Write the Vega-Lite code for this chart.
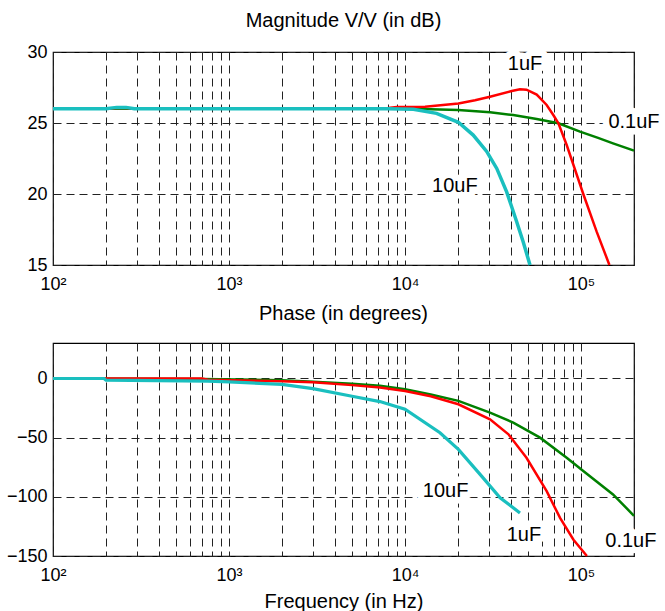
{
  "$schema": "https://vega.github.io/schema/vega-lite/v6.json",
  "padding": {"left": 5, "top": 10, "right": 0, "bottom": 0},
  "background": "white",
  "spacing": 9,
  "config": {
    "font": "Liberation Sans",
    "view": {"stroke": "black", "strokeWidth": 1.2},
    "axis": {
      "labelFont": "Liberation Sans", "labelFontSize": 18, "labelColor": "black",
      "grid": true, "gridColor": "#222222", "gridDash": [8, 5], "gridWidth": 1, "gridOpacity": 1,
      "domain": false, "ticks": false, "tickSize": 0,
      "titleFont": "Liberation Sans", "titleFontSize": 20, "titleColor": "black", "titleFontWeight": "normal"
    },
    "title": {"font": "Liberation Sans", "fontSize": 20, "fontWeight": "normal", "color": "black", "offset": 12}
  },
  "datasets": {
    "mag": [
      {"s": "0.1uF", "f": 100, "v": 26}, {"s": "0.1uF", "f": 1000, "v": 26}, {"s": "0.1uF", "f": 5000, "v": 26},
      {"s": "0.1uF", "f": 10000, "v": 26}, {"s": "0.1uF", "f": 14000, "v": 25.97}, {"s": "0.1uF", "f": 20100, "v": 25.92},
      {"s": "0.1uF", "f": 30400, "v": 25.75}, {"s": "0.1uF", "f": 41200, "v": 25.56}, {"s": "0.1uF", "f": 56000, "v": 25.28},
      {"s": "0.1uF", "f": 74400, "v": 24.98}, {"s": "0.1uF", "f": 98700, "v": 24.39}, {"s": "0.1uF", "f": 125000, "v": 23.95},
      {"s": "0.1uF", "f": 152000, "v": 23.57}, {"s": "0.1uF", "f": 200000, "v": 23.05},

      {"s": "1uF", "f": 100, "v": 26}, {"s": "1uF", "f": 200, "v": 26}, {"s": "1uF", "f": 230, "v": 26.05},
      {"s": "1uF", "f": 260, "v": 26.05}, {"s": "1uF", "f": 300, "v": 26}, {"s": "1uF", "f": 1000, "v": 26},
      {"s": "1uF", "f": 8000, "v": 26.05}, {"s": "1uF", "f": 9000, "v": 26.12}, {"s": "1uF", "f": 13000, "v": 26.15},
      {"s": "1uF", "f": 20100, "v": 26.38}, {"s": "1uF", "f": 25000, "v": 26.6}, {"s": "1uF", "f": 30400, "v": 26.85},
      {"s": "1uF", "f": 40400, "v": 27.25}, {"s": "1uF", "f": 45000, "v": 27.37}, {"s": "1uF", "f": 49000, "v": 27.35},
      {"s": "1uF", "f": 56000, "v": 27.0}, {"s": "1uF", "f": 63800, "v": 26.27}, {"s": "1uF", "f": 69600, "v": 25.56},
      {"s": "1uF", "f": 74400, "v": 24.98}, {"s": "1uF", "f": 82900, "v": 23.45}, {"s": "1uF", "f": 103000, "v": 20.0},
      {"s": "1uF", "f": 122700, "v": 17.35}, {"s": "1uF", "f": 145000, "v": 15.0},

      {"s": "10uF", "f": 100, "v": 26}, {"s": "10uF", "f": 200, "v": 26}, {"s": "10uF", "f": 230, "v": 26.1},
      {"s": "10uF", "f": 260, "v": 26.1}, {"s": "10uF", "f": 290, "v": 26}, {"s": "10uF", "f": 1000, "v": 26},
      {"s": "10uF", "f": 8000, "v": 26}, {"s": "10uF", "f": 11150, "v": 25.97}, {"s": "10uF", "f": 15100, "v": 25.68},
      {"s": "10uF", "f": 20100, "v": 25.05}, {"s": "10uF", "f": 24400, "v": 24.15}, {"s": "10uF", "f": 29100, "v": 23.0},
      {"s": "10uF", "f": 33200, "v": 21.8}, {"s": "10uF", "f": 37800, "v": 20.15}, {"s": "10uF", "f": 43100, "v": 18.05},
      {"s": "10uF", "f": 47000, "v": 16.6}, {"s": "10uF", "f": 51300, "v": 15.0}
    ],
    "phase": [
      {"s": "0.1uF", "f": 100, "v": 0}, {"s": "0.1uF", "f": 700, "v": -0.5}, {"s": "0.1uF", "f": 2000, "v": -1.4},
      {"s": "0.1uF", "f": 3000, "v": -2.8}, {"s": "0.1uF", "f": 5000, "v": -4.5}, {"s": "0.1uF", "f": 7200, "v": -6.2},
      {"s": "0.1uF", "f": 10000, "v": -9}, {"s": "0.1uF", "f": 14000, "v": -13.5}, {"s": "0.1uF", "f": 20100, "v": -18.9},
      {"s": "0.1uF", "f": 30400, "v": -28.8}, {"s": "0.1uF", "f": 41200, "v": -37.3}, {"s": "0.1uF", "f": 58500, "v": -50},
      {"s": "0.1uF", "f": 82900, "v": -67}, {"s": "0.1uF", "f": 103000, "v": -78.2}, {"s": "0.1uF", "f": 152000, "v": -98},
      {"s": "0.1uF", "f": 200000, "v": -116},

      {"s": "1uF", "f": 100, "v": 0}, {"s": "1uF", "f": 700, "v": 0}, {"s": "1uF", "f": 760, "v": -1.1},
      {"s": "1uF", "f": 2000, "v": -2.3}, {"s": "1uF", "f": 3000, "v": -3.1}, {"s": "1uF", "f": 5000, "v": -5.6},
      {"s": "1uF", "f": 7200, "v": -7.6}, {"s": "1uF", "f": 10000, "v": -10.5}, {"s": "1uF", "f": 14000, "v": -15},
      {"s": "1uF", "f": 20100, "v": -21.8}, {"s": "1uF", "f": 30400, "v": -34.5}, {"s": "1uF", "f": 38700, "v": -47.2},
      {"s": "1uF", "f": 49000, "v": -67}, {"s": "1uF", "f": 63800, "v": -95.2}, {"s": "1uF", "f": 76000, "v": -117.8},
      {"s": "1uF", "f": 90600, "v": -136.2}, {"s": "1uF", "f": 108000, "v": -150},

      {"s": "10uF", "f": 100, "v": 0}, {"s": "10uF", "f": 195, "v": 0}, {"s": "10uF", "f": 200, "v": -1.4},
      {"s": "10uF", "f": 757, "v": -2.3}, {"s": "10uF", "f": 1000, "v": -2.8}, {"s": "10uF", "f": 2000, "v": -5},
      {"s": "10uF", "f": 3000, "v": -8.5}, {"s": "10uF", "f": 5000, "v": -15}, {"s": "10uF", "f": 7200, "v": -19.5},
      {"s": "10uF", "f": 10000, "v": -26}, {"s": "10uF", "f": 15800, "v": -45.8}, {"s": "10uF", "f": 20100, "v": -59.9},
      {"s": "10uF", "f": 26700, "v": -81}, {"s": "10uF", "f": 34700, "v": -100.8}, {"s": "10uF", "f": 45000, "v": -113.6}
    ],
    "labels": [
      {"p": "mag", "t": "1uF", "f": 48100, "v": 29.15},
      {"p": "mag", "t": "0.1uF", "f": 200000, "v": 25.07},
      {"p": "mag", "t": "10uF", "f": 19200, "v": 20.56},
      {"p": "phase", "t": "10uF", "f": 17000, "v": -95.1},
      {"p": "phase", "t": "1uF", "f": 47400, "v": -131.9},
      {"p": "phase", "t": "0.1uF", "f": 192000, "v": -137}
    ]
  },
  "vconcat": [
    {
      "title": {"text": "Magnitude V/V (in dB)"},
      "width": 581,
      "height": 213,
      "encoding": {
        "x": {"field": "f", "type": "quantitative",
          "scale": {"type": "log", "domain": [100, 200000], "nice": false},
          "axis": {"title": null, "labelOverlap": false, "labelFlush": false, "labelBound": false, "labelPadding": 10,
            "values": [100,200,300,400,500,600,700,800,900,1000,2000,3000,4000,5000,6000,7000,8000,9000,10000,20000,30000,40000,50000,60000,70000,80000,90000,100000,200000],
            "labelExpr": "datum.value == 100 ? '10\u00b2' : datum.value == 1000 ? '10\u00b3' : datum.value == 10000 ? '10\u2074' : datum.value == 100000 ? '10\u2075' : ''"}},
        "y": {"field": "v", "type": "quantitative",
          "scale": {"domain": [15, 30], "nice": false, "zero": false},
          "axis": {"title": null, "values": [15, 20, 25, 30], "labelPadding": 6, "minExtent": 43, "maxExtent": 43}}
      },
      "layer": [
        {"data": {"name": "mag"}, "transform": [{"filter": "datum.s == '0.1uF'"}],
         "mark": {"type": "line", "color": "#008000", "strokeWidth": 2.5}},
        {"data": {"name": "mag"}, "transform": [{"filter": "datum.s == '1uF'"}],
         "mark": {"type": "line", "color": "#FF0000", "strokeWidth": 2.5}},
        {"data": {"name": "mag"}, "transform": [{"filter": "datum.s == '10uF'"}],
         "mark": {"type": "line", "color": "#1ABFBF", "strokeWidth": 3.5}},
        {"data": {"name": "labels"}, "transform": [{"filter": "datum.p == 'mag'"}],
         "mark": {"type": "text", "fontSize": 20, "font": "Liberation Sans", "fill": "white", "stroke": "white", "strokeWidth": 13, "strokeJoin": "round", "align": "center", "baseline": "middle"},
         "encoding": {"text": {"field": "t"}}},
        {"data": {"name": "labels"}, "transform": [{"filter": "datum.p == 'mag'"}],
         "mark": {"type": "text", "fontSize": 20, "font": "Liberation Sans", "color": "black", "align": "center", "baseline": "middle"},
         "encoding": {"text": {"field": "t"}}}
      ]
    },
    {
      "title": {"text": "Phase (in degrees)", "offset": 19},
      "width": 581,
      "height": 213,
      "encoding": {
        "x": {"field": "f", "type": "quantitative",
          "scale": {"type": "log", "domain": [100, 200000], "nice": false},
          "axis": {"title": "Frequency (in Hz)", "titlePadding": 7, "labelOverlap": false, "labelFlush": false, "labelBound": false, "labelPadding": 10,
            "values": [100,200,300,400,500,600,700,800,900,1000,2000,3000,4000,5000,6000,7000,8000,9000,10000,20000,30000,40000,50000,60000,70000,80000,90000,100000,200000],
            "labelExpr": "datum.value == 100 ? '10\u00b2' : datum.value == 1000 ? '10\u00b3' : datum.value == 10000 ? '10\u2074' : datum.value == 100000 ? '10\u2075' : ''"}},
        "y": {"field": "v", "type": "quantitative",
          "scale": {"domain": [-150, 30], "nice": false, "zero": false},
          "axis": {"title": null, "values": [-150, -100, -50, 0], "labelPadding": 6, "minExtent": 43, "maxExtent": 43}}
      },
      "layer": [
        {"data": {"name": "phase"}, "transform": [{"filter": "datum.s == '0.1uF'"}],
         "mark": {"type": "line", "color": "#008000", "strokeWidth": 2.5}},
        {"data": {"name": "phase"}, "transform": [{"filter": "datum.s == '1uF'"}],
         "mark": {"type": "line", "color": "#FF0000", "strokeWidth": 2.5}},
        {"data": {"name": "phase"}, "transform": [{"filter": "datum.s == '10uF'"}],
         "mark": {"type": "line", "color": "#1ABFBF", "strokeWidth": 3.2}},
        {"data": {"name": "labels"}, "transform": [{"filter": "datum.p == 'phase'"}],
         "mark": {"type": "text", "fontSize": 20, "font": "Liberation Sans", "fill": "white", "stroke": "white", "strokeWidth": 13, "strokeJoin": "round", "align": "center", "baseline": "middle"},
         "encoding": {"text": {"field": "t"}}},
        {"data": {"name": "labels"}, "transform": [{"filter": "datum.p == 'phase'"}],
         "mark": {"type": "text", "fontSize": 20, "font": "Liberation Sans", "color": "black", "align": "center", "baseline": "middle"},
         "encoding": {"text": {"field": "t"}}}
      ]
    }
  ]
}
